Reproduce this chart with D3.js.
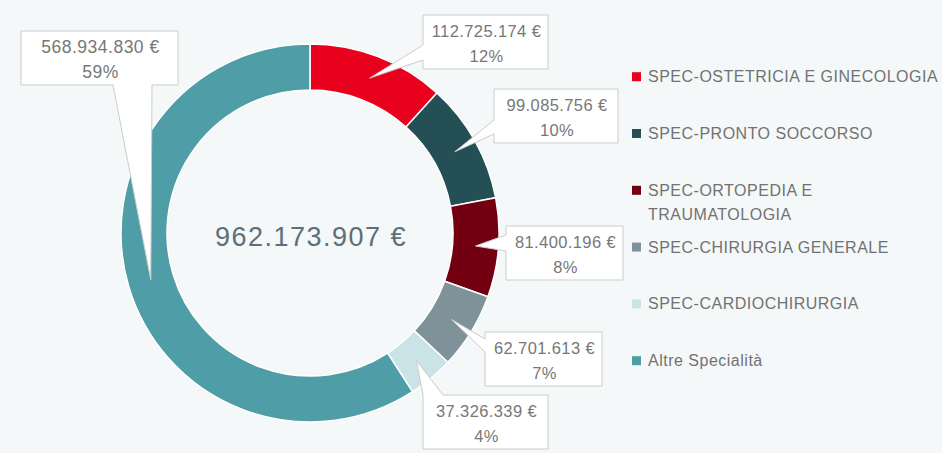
<!DOCTYPE html>
<html>
<head>
<meta charset="utf-8">
<script src="https://cdn.jsdelivr.net/npm/d3@7/dist/d3.min.js"></script>
<style>
  html, body { margin: 0; padding: 0; background: #f5f8f8; }
  svg { display: block; }
  text { font-family: "Liberation Sans", Arial, sans-serif; }
</style>
</head>
<body>
<svg id="chart" width="942" height="453"></svg>
<script>
// ---- data ----
const categories = [
  "SPEC-OSTETRICIA E GINECOLOGIA",
  "SPEC-PRONTO SOCCORSO",
  "SPEC-ORTOPEDIA E TRAUMATOLOGIA",
  "SPEC-CHIRURGIA GENERALE",
  "SPEC-CARDIOCHIRURGIA",
  "Altre Specialità"
];
const values = [112725174, 99085756, 81400196, 62701613, 37326339, 568934830];
const totalValue = 962173907;
const colors = ["#e8001c", "#234f55", "#730010", "#7f9299", "#c9e3e6", "#4f9da6"];

// ---- layout (not data) ----
const W = 942, H = 453;
const cx = 310, cy = 233, rOuter = 189, rInner = 143;
// label boxes: [x, y, w, h, fontSize, letterSpacing, pointerSide, baseStart, baseEnd]
const boxes = [
  [423, 15, 125, 54, 16.5, 0.4, "left", 45, 60],
  [494, 89, 124, 54, 16.5, 0.4, "left", 120, 134],
  [506, 226, 117, 54, 16.5, 0.4, "left", 235, 251],
  [485, 332, 117, 54, 16.5, 0.4, "left", 339, 352],
  [423, 395, 125, 54, 16.5, 0.4, "top", 423, 443],
  [21, 31, 157, 54, 17.5, 0.5, "bottom", 113, 152]
];
const legendLines = [
  ["SPEC-OSTETRICIA E GINECOLOGIA"],
  ["SPEC-PRONTO SOCCORSO"],
  ["SPEC-ORTOPEDIA E", "TRAUMATOLOGIA"],
  ["SPEC-CHIRURGIA GENERALE"],
  ["SPEC-CARDIOCHIRURGIA"],
  ["Altre Specialità"]
];

const svg = d3.select("#chart");
svg.append("rect").attr("width", W).attr("height", H).attr("fill", "#f5f8f8");

const loc = d3.formatLocale({decimal: ",", thousands: ".", grouping: [3], currency: ["", " €"]});
const fmt = loc.format(",.0f");
const sum = d3.sum(values);

const data = categories.map((c, i) => ({cat: c, value: values[i], color: colors[i], i}));
const pie = d3.pie().value(d => d.value).sort(null);
const arcs = pie(data);
const arc = d3.arc().innerRadius(rInner).outerRadius(rOuter);
const midArc = d3.arc().innerRadius((rInner + rOuter) / 2).outerRadius((rInner + rOuter) / 2);

const g = svg.append("g").attr("transform", `translate(${cx},${cy})`);
g.selectAll("path.slice").data(arcs).join("path")
  .attr("class", "slice")
  .attr("d", arc)
  .attr("fill", d => d.data.color)
  .attr("stroke", "#ffffff")
  .attr("stroke-width", 1.5);

// center total
svg.append("text")
  .attr("x", cx + 1).attr("y", 237)
  .attr("text-anchor", "middle").attr("dominant-baseline", "central")
  .attr("font-size", 27).attr("letter-spacing", "1.5px")
  .attr("fill", "#5d6f79")
  .text(fmt(totalValue) + " €");

// callouts
arcs.forEach((a, i) => {
  const [bx, by, bw, bh, fs, ls, side, b0, b1] = boxes[i];
  const c = midArc.centroid(a);
  const tx = cx + c[0], ty = cy + c[1];
  const p = d3.path();
  p.moveTo(bx, by);
  if (side === "top") { p.lineTo(b0, by); p.lineTo(tx, ty); p.lineTo(b1, by); }
  p.lineTo(bx + bw, by);
  p.lineTo(bx + bw, by + bh);
  if (side === "bottom") { p.lineTo(b1, by + bh); p.lineTo(tx, ty); p.lineTo(b0, by + bh); }
  p.lineTo(bx, by + bh);
  if (side === "left") { p.lineTo(bx, b1); p.lineTo(tx, ty); p.lineTo(bx, b0); }
  p.closePath();
  svg.append("path").attr("d", p.toString())
    .attr("fill", "#ffffff").attr("stroke", "#cccccc").attr("stroke-width", 1)
    .attr("stroke-linejoin", "miter");
  const pct = Math.round(a.data.value / sum * 100);
  const t = svg.append("text")
    .attr("text-anchor", "middle")
    .attr("font-size", fs).attr("letter-spacing", ls + "px")
    .attr("fill", "#777777");
  t.append("tspan").attr("x", bx + bw / 2 + 1).attr("y", by + 16).attr("dominant-baseline", "central")
    .text(fmt(a.data.value) + " €");
  t.append("tspan").attr("x", bx + bw / 2 + 1).attr("y", by + 40.5).attr("dominant-baseline", "central")
    .text(pct + "%");
});

// legend
const lg = svg.append("g");
data.forEach((d, i) => {
  const y0 = 76.7 + i * 56.8;
  lg.append("rect").attr("x", 632).attr("y", y0 - 4.5).attr("width", 9).attr("height", 9)
    .attr("fill", d.color);
  const t = lg.append("text").attr("font-size", 16).attr("letter-spacing", "0.5px").attr("fill", "#727272");
  legendLines[i].forEach((ln, k) => {
    t.append("tspan").attr("x", 648).attr("y", y0 + k * 24).attr("dominant-baseline", "central").text(ln);
  });
});
</script>
</body>
</html>
